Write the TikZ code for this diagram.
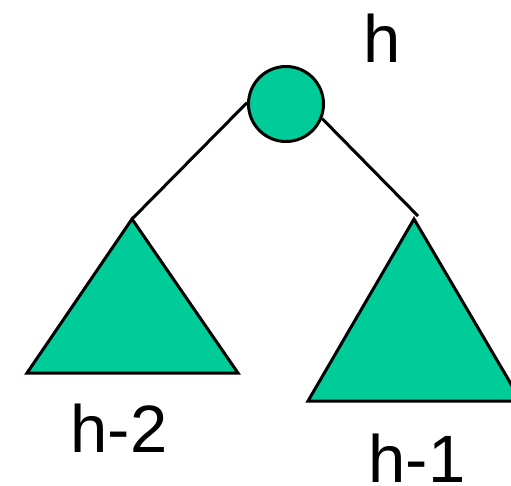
\documentclass[tikz,border=0pt]{standalone}
\usepackage{fontspec}
\setmainfont{Liberation Sans}
\definecolor{teal}{RGB}{0,204,153}
\begin{document}
\begin{tikzpicture}[x=1pt,y=-1pt,
  edge/.style={line width=3pt,black},
  shapefill/.style={fill=teal,draw=black,line width=3pt,line join=miter},
  lbl/.style={anchor=base,inner sep=0pt,font=\fontsize{67}{80}\selectfont}]
\useasboundingbox (0,0) rectangle (511,485);
\node[shapefill,circle,minimum size=75pt,inner sep=0pt] (root) at (286,104) {};
\coordinate (la) at (132,219);
\coordinate (lb1) at (27,373);
\coordinate (lb2) at (238,373);
\coordinate (ra) at (414,219);
\coordinate (rb1) at (308,401);
\coordinate (rb2) at (521,401);
\coordinate (rend) at (418,216);
\filldraw[shapefill] (la) -- (lb1) -- (lb2) -- cycle;
\filldraw[shapefill] (ra) -- (rb1) -- (rb2) -- cycle;
\draw[edge] (root.178) -- (la);
\draw[edge] (root.-22) -- (rend);
\node[lbl] (lh) at (382,62) {h};
\node[lbl] (lh2) at (119,452) {h-2};
\node[lbl] (lh1) at (417,482) {h-1};
\end{tikzpicture}
\end{document}
